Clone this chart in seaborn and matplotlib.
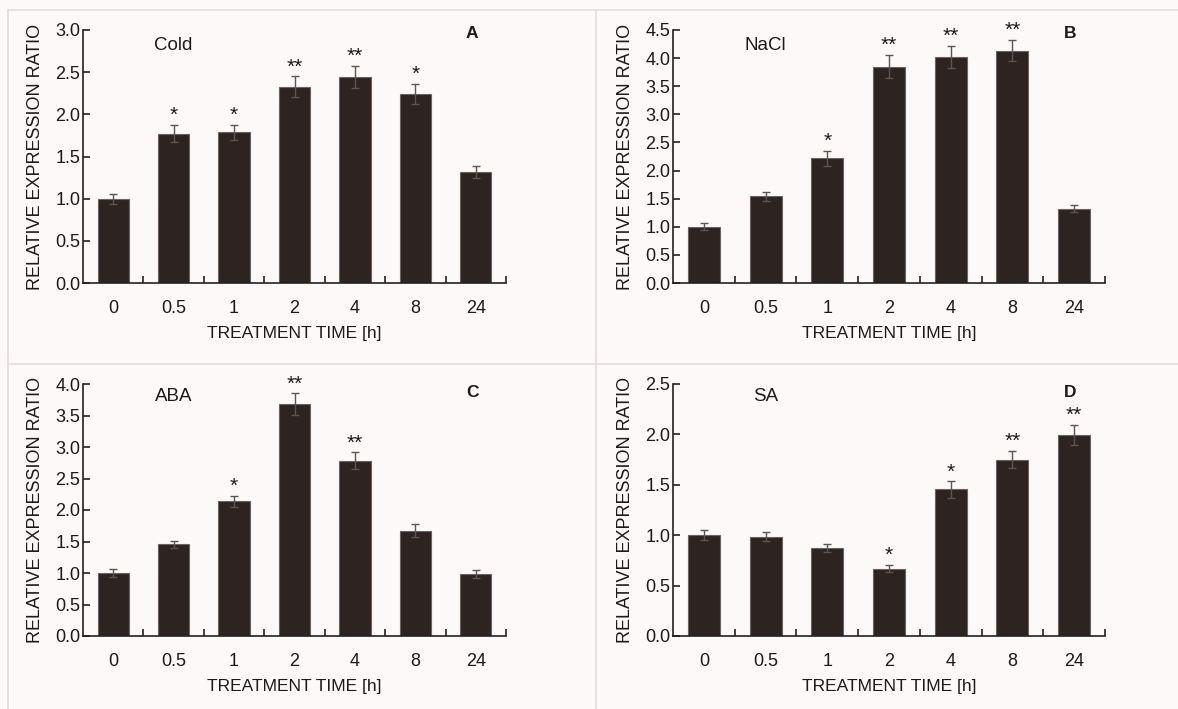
import matplotlib
matplotlib.use("Agg")
import matplotlib.pyplot as plt
from matplotlib.lines import Line2D
import numpy as np
import pandas as pd
import seaborn as sns

sns.set_theme(style="white")
plt.rcParams['font.family'] = ['Liberation Sans', 'DejaVu Sans']

times = ["0", "0.5", "1", "2", "4", "8", "24"]

cold_vals = [1.00, 1.77, 1.785, 2.33, 2.445, 2.24, 1.32]
cold_err = [0.06, 0.10, 0.09, 0.12, 0.13, 0.12, 0.07]
cold_sig = ["", "*", "*", "**", "**", "*", ""]

nacl_vals = [1.00, 1.54, 2.215, 3.85, 4.02, 4.13, 1.325]
nacl_err = [0.06, 0.08, 0.13, 0.20, 0.19, 0.19, 0.065]
nacl_sig = ["", "", "*", "**", "**", "**", ""]

aba_vals = [1.00, 1.455, 2.14, 3.68, 2.785, 1.67, 0.985]
aba_err = [0.06, 0.06, 0.09, 0.17, 0.13, 0.10, 0.06]
aba_sig = ["", "", "*", "**", "**", "", ""]

sa_vals = [1.00, 0.983, 0.877, 0.666, 1.454, 1.75, 1.993]
sa_err = [0.05, 0.045, 0.04, 0.036, 0.08, 0.085, 0.10]
sa_sig = ["", "", "", "*", "*", "**", "**"]

treatments = ["Cold", "NaCl", "ABA", "SA"]
letters = ["A", "B", "C", "D"]
ymaxes = [3.0, 4.5, 4.0, 2.5]
ysteps = [0.5, 0.5, 0.5, 0.5]

W, H = 1178, 709
BG = "#fdf9f8"
BAR = "#2d2321"
ERR = "#5e5452"
TXT = "#1a1a1a"

fig = plt.figure(figsize=(W / 100, H / 100), dpi=100, facecolor=BG)

# panel frame lines (figure pixel coords)
def fline(x0, y0, x1, y1):
    fig.add_artist(Line2D([x0 / W, x1 / W], [1 - y0 / H, 1 - y1 / H],
                          transform=fig.transFigure, color="#e2dddc", lw=1.2))

fline(8, 10, W, 10)
fline(8, 10, 8, H)
fline(596, 10, 596, H)
fline(8, 364, W, 364)

panels = [
    (cold_vals, cold_err, cold_sig, (83, 506, 30, 283)),
    (nacl_vals, nacl_err, nacl_sig, (673, 1105, 30, 283)),
    (aba_vals, aba_err, aba_sig, (83, 506, 384, 636)),
    (sa_vals, sa_err, sa_sig, (673, 1105, 384, 636)),
]

for i, (vals, errs, sig, (l, r, t, b)) in enumerate(panels):
    ax = fig.add_axes([l / W, 1 - b / H, (r - l) / W, (b - t) / H])
    ax.set_facecolor(BG)
    df = pd.DataFrame({"time": times, "val": vals})
    sns.barplot(data=df, x="time", y="val", color=BAR, width=0.52,
                saturation=1, edgecolor="#6b6361", linewidth=0.8, ax=ax)
    xs = np.arange(len(times))
    ax.errorbar(xs, vals, yerr=errs, fmt="none", ecolor=ERR,
                elinewidth=1.0, capsize=2.6, capthick=1.0)
    for x, v, e, s in zip(xs, vals, errs, sig):
        if s:
            ax.annotate(s, (x, v + e), xytext=(0, 0), textcoords="offset points",
                        ha="center", va="bottom", fontsize=15, color=TXT)
    ymax = ymaxes[i]
    ax.set_xlim(-0.5, len(times) - 0.5)
    ax.set_ylim(0, ymax)
    yt = np.arange(0, ymax + 0.001, ysteps[i])
    ax.set_yticks(yt)
    ax.set_yticklabels([f"{v:.1f}" for v in yt])
    ax.set_xticks(xs)
    ax.set_xticks(np.arange(0.5, len(times), 1.0), minor=True)
    ax.tick_params(axis="x", which="major", length=0, pad=12,
                   labelsize=13, labelcolor=TXT)
    ax.tick_params(axis="x", which="minor", length=5, width=1.2, direction="in",
                   color="#222222", bottom=True)
    ax.tick_params(axis="y", which="major", length=5, width=1.2, direction="in",
                   color="#222222", pad=2, labelsize=13, labelcolor=TXT, left=True)
    for side in ["top", "right"]:
        ax.spines[side].set_visible(False)
    for side in ["left", "bottom"]:
        ax.spines[side].set_visible(True)
        ax.spines[side].set_color("#222222")
        ax.spines[side].set_linewidth(1.2)
    ax.set_xlabel("TREATMENT TIME [h]", fontsize=12.5, color=TXT, labelpad=7)
    ax.set_ylabel("RELATIVE EXPRESSION RATIO", fontsize=13, color=TXT, labelpad=8)
    ax.text(1, 0.94 if i < 2 else 0.95, treatments[i], transform=ax.get_xaxis_transform(),
            ha="center", va="center", fontsize=13.5, color=TXT)
    ax.text(0.92, 0.985 if i < 2 else 0.965, letters[i], transform=ax.transAxes,
            ha="center", va="center", fontsize=12.5, fontweight="bold", color=TXT)
    ax.grid(False)

fig.savefig("out.png", dpi=100, facecolor=BG)
